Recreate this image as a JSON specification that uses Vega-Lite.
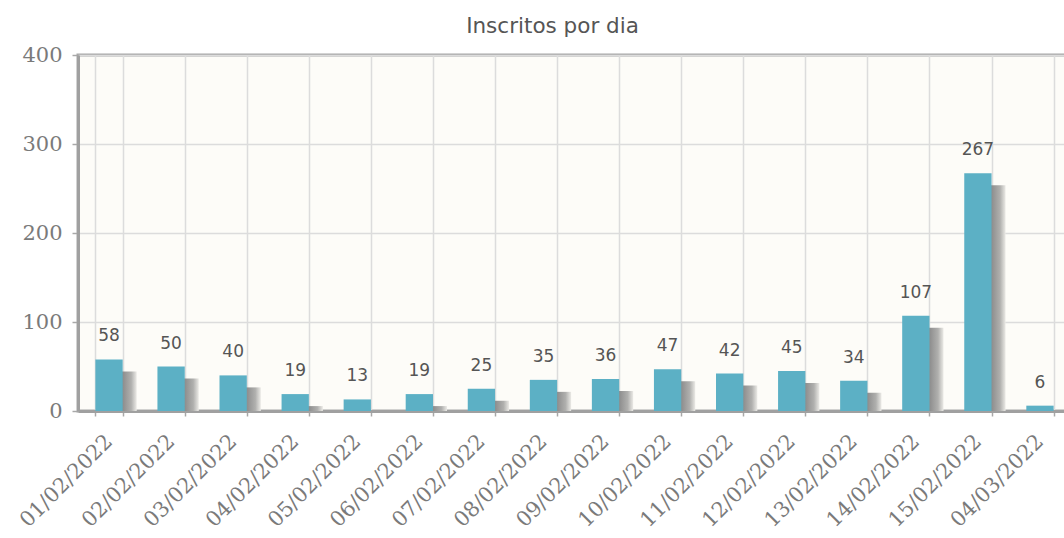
{
  "$schema": "https://vega.github.io/schema/vega-lite/v6.json",
  "autosize": {"type": "none"},
  "width": 993,
  "height": 356,
  "padding": {"left": 78, "top": 55, "right": 0, "bottom": 127},
  "background": "#ffffff",
  "title": {
    "text": "Inscritos por dia",
    "font": "DejaVu Sans",
    "fontSize": 21.5,
    "fontWeight": "normal",
    "color": "#555555",
    "offset": 7,
    "dx": -22
  },
  "config": {
    "view": {"fill": "#fdfcf8", "stroke": "#a8a8a8", "strokeWidth": 3}
  },
  "data": {
    "values": [
      {"data": "01/02/2022", "inscritos": 58},
      {"data": "02/02/2022", "inscritos": 50},
      {"data": "03/02/2022", "inscritos": 40},
      {"data": "04/02/2022", "inscritos": 19},
      {"data": "05/02/2022", "inscritos": 13},
      {"data": "06/02/2022", "inscritos": 19},
      {"data": "07/02/2022", "inscritos": 25},
      {"data": "08/02/2022", "inscritos": 35},
      {"data": "09/02/2022", "inscritos": 36},
      {"data": "10/02/2022", "inscritos": 47},
      {"data": "11/02/2022", "inscritos": 42},
      {"data": "12/02/2022", "inscritos": 45},
      {"data": "13/02/2022", "inscritos": 34},
      {"data": "14/02/2022", "inscritos": 107},
      {"data": "15/02/2022", "inscritos": 267},
      {"data": "04/03/2022", "inscritos": 6}
    ]
  },
  "encoding": {
    "x": {
      "field": "data",
      "type": "nominal",
      "sort": null,
      "scale": {"paddingInner": 0.56, "paddingOuter": 0.28},
      "axis": {
        "title": null,
        "tickBand": "extent",
        "labelAngle": -45,
        "labelAlign": "right",
        "labelBaseline": "middle",
        "labelPadding": 22,
        "labelFont": "DejaVu Serif",
        "labelFontSize": 21,
        "labelColor": "#7a7a7a",
        "domainColor": "#a0a0a0",
        "domainWidth": 3,
        "tickColor": "#a8a8a8",
        "tickSize": 5,
        "tickWidth": 1.5,
        "grid": true,
        "gridColor": "#dcdcdc",
        "gridWidth": 1.5
      }
    },
    "y": {
      "field": "inscritos",
      "type": "quantitative",
      "scale": {"domain": [0, 400], "nice": false},
      "axis": {
        "title": null,
        "values": [0, 100, 200, 300, 400],
        "labelFont": "DejaVu Serif",
        "labelFontSize": 21,
        "labelColor": "#7a7a7a",
        "labelPadding": 10,
        "domainColor": "#a0a0a0",
        "domainWidth": 3,
        "tickColor": "#a8a8a8",
        "tickSize": 6,
        "tickWidth": 1.5,
        "gridColor": "#dcdcdc",
        "gridWidth": 1.5
      }
    }
  },
  "layer": [
    {
      "mark": {
        "type": "bar",
        "xOffset": 14,
        "yOffset": 12,
        "clip": true,
        "fill": {
          "gradient": "linear",
          "x1": 0, "y1": 0, "x2": 1, "y2": 0,
          "stops": [
            {"offset": 0, "color": "#888888"},
            {"offset": 0.48, "color": "#8c8c8c"},
            {"offset": 0.8, "color": "#b0b0ae"},
            {"offset": 1, "color": "#ebeae6"}
          ]
        }
      }
    },
    {
      "mark": {"type": "bar", "color": "#5cb0c5"}
    },
    {
      "mark": {
        "type": "text",
        "baseline": "alphabetic",
        "dy": -18,
        "font": "DejaVu Sans",
        "fontSize": 17,
        "color": "#555555"
      },
      "encoding": {"text": {"field": "inscritos", "type": "quantitative"}}
    }
  ]
}
